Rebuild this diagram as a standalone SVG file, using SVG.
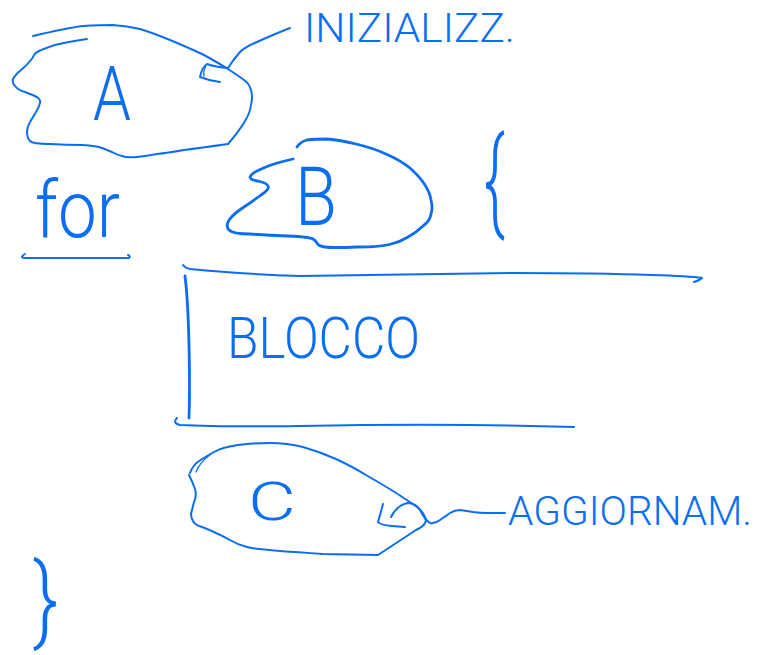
<svg xmlns="http://www.w3.org/2000/svg" width="767" height="655" viewBox="0 0 767 655">
  <style>
    .ink { fill: none; stroke: #0b6ef2; stroke-width: 2; stroke-linecap: round; stroke-linejoin: round; }
    .bold { stroke-width: 2.8; }
    .thin { stroke-width: 1.3; }
    .hand { fill: #0b6ef2; font-family: Roboto, "Liberation Sans", sans-serif; font-weight: 300; }
  </style>
  <rect width="767" height="655" fill="#ffffff"/>

  <!-- node A: initialisation cloud -->
  <g id="node-a">
    <path class="ink" d="M33,36 Q67,28 83,26 Q100,25 113,25 Q127,26 140,29 Q153,33 170,40 Q187,47 202,54 Q217,62 228,69 Q240,77 244,80 Q249,83 251,90 Q253,97 251,105 Q250,113 245,121 Q240,130 228,144"/>
    <path class="ink" d="M228,144 Q200,148 184,150 Q167,153 157,154 Q147,156 137,157 Q127,158 122,156 Q117,155 112,152 Q107,150 102,148 Q97,146 82,145 Q67,145 50,144 Q33,144 30,141 Q27,138 27,132 Q27,127 30,122 Q33,117 36,112 Q39,107 40,103 Q41,100 37,97 Q33,95 25,92 Q18,90 15,86 Q12,83 13,79 Q15,75 21,70 Q27,65 30,61 Q33,58 34,55 Q35,53 39,51 Q43,49 55,45 Q67,42 87,39"/>
    <text class="hand" x="93" y="120" font-size="76" textLength="38" lengthAdjust="spacingAndGlyphs">A</text>
  </g>

  <!-- for keyword -->
  <g id="node-for">
    <text class="hand" x="35" y="237" font-size="80" textLength="85" lengthAdjust="spacingAndGlyphs">for</text>
    <path class="ink" d="M25,254 Q18,258 27,258 L129,258 Q131,256 128,255"/>
  </g>

  <!-- node B: condition cloud -->
  <g id="node-b">
    <path class="ink bold" d="M297,147 Q300,142 307,140 Q315,139 327,139 Q340,140 356,144 Q373,148 386,154 Q400,160 410,168 Q420,177 425,185 Q430,193 431,200 Q433,208 431,214 Q430,221 423,226 Q417,232 408,237 Q400,242 391,244 Q382,247 357,247 Q333,248 325,247 Q318,246 317,243 Q316,241 313,239 Q310,237 288,236 Q267,235 250,234 Q233,234 229,230 Q226,227 228,222 Q230,217 241,209 Q253,201 261,195 Q270,189 268,186 Q267,183 258,181 Q250,180 250,177 Q251,174 257,171 Q263,168 271,165 Q280,162 293,159"/>
    <text class="hand" x="295" y="225" font-size="82" textLength="42" lengthAdjust="spacingAndGlyphs">B</text>
  </g>

  <!-- opening brace -->
  <g id="node-open-brace">
    <text class="hand" transform="translate(484,218) scale(0.55,1)" x="0" y="0" font-size="114">{</text>
  </g>

  <!-- loop body -->
  <g id="node-blocco">
    <path class="ink" d="M183,265 Q185,268 190,269 Q240,274 300,276 Q400,275 511,273 Q600,273 651,275 Q690,276 702,278 Q700,280 694,282"/>
    <path class="ink bold" d="M185,276 Q188,300 189,345 Q190,390 189,418"/>
    <path class="ink" d="M177,418 Q172,423 180,425 Q220,427 300,426 Q450,423 574,427"/>
    <text class="hand" x="227" y="358" font-size="58" textLength="193" lengthAdjust="spacingAndGlyphs">BLOCCO</text>
  </g>

  <!-- node C: update cloud -->
  <g id="node-c">
    <path class="ink" d="M190,473 Q193,465 199,461 Q205,457 214,452 Q223,447 238,445 Q253,443 270,443 Q287,443 303,447 Q320,452 336,459 Q353,467 366,475 Q380,483 393,491 Q407,500 414,505 Q422,510 424,515 Q427,520 425,523 Q423,527 416,530 L378,555 L323,554 Q257,550 247,547 Q238,545 230,540 Q223,536 216,533 Q210,530 202,527 Q195,525 193,521 Q191,518 191,514 Q192,510 194,502 Q197,495 195,489 Q193,483 189,475"/>
    <path class="ink thin" d="M196,472 Q200,462 211,454"/>
    <text class="hand" x="248" y="520" font-size="54" textLength="48" lengthAdjust="spacingAndGlyphs">C</text>
  </g>

  <!-- closing brace -->
  <g id="node-close-brace">
    <text class="hand" transform="translate(33,632) scale(0.8,1)" x="0" y="0" font-size="96">}</text>
  </g>

  <!-- annotation labels -->
  <g id="label-init">
    <text class="hand" x="304" y="42" font-size="40" textLength="211" lengthAdjust="spacingAndGlyphs">INIZIALIZZ.</text>
  </g>
  <g id="label-update">
    <text class="hand" x="508" y="525" font-size="40" textLength="244" lengthAdjust="spacingAndGlyphs">AGGIORNAM.</text>
  </g>

  <!-- connectors -->
  <g id="connectors">
    <path class="ink" d="M290,28 Q270,36 257,42 Q245,47 240,52 Q233,60 228,68 Q215,67 207,64 Q202,67 200,77 Q210,81 220,82"/>
    <path class="ink thin" d="M206,66 Q203,71 204,76"/>
    <path class="ink" d="M383,504 Q380,515 378,522 Q380,525 392,526 L405,527"/>
    <path class="ink" d="M391,517 Q397,505 408,503 Q416,503 420,510 Q425,520 430,523 Q435,524 440,520 Q446,516 450,513 Q455,510 460,510 Q467,511 473,512 Q480,513 487,513 L505,513"/>
  </g>
</svg>
